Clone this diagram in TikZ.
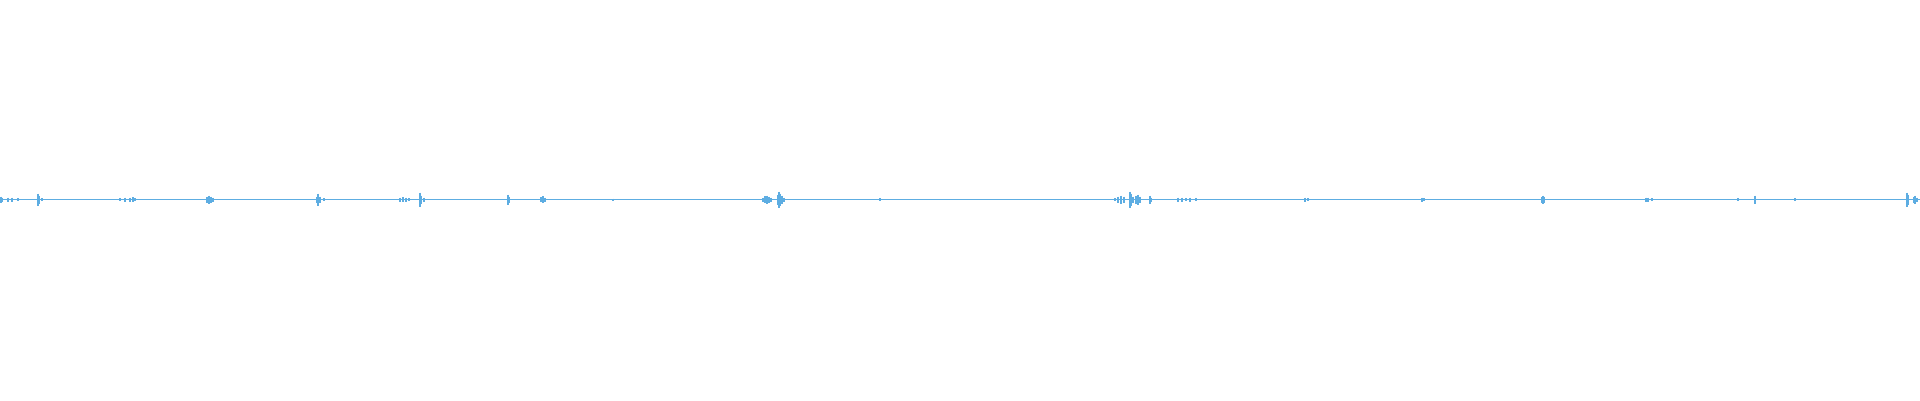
\documentclass[tikz,border=0pt]{standalone}
\begin{document}
\begin{tikzpicture}[x=1pt,y=-1pt,wave/.style={draw={rgb,255:red,93;green,173;blue,226},line width=1.3pt}]
\useasboundingbox (0,0) rectangle (1920,400);
\draw[wave] (0,199.5) -- (1920,199.5);
\foreach \x/\h in {1/3,2/2,8/2,12/2,18/1.5,38/6,39/4,42/1.5,120/1.5,125/2,130/2,133/2.5,135/1.5,207/3,209/4,211/3,213/2,317/3,318/6,320/3,324/1.5,400/2,403/2.5,406/2,409/1.5,420/7,421/4,424/2,508/5,509/3,541/2.5,543/3.5,545/2,613/1,763/2,765/3.5,767/4,769/3,771/2,778/5,779/8,780/6,782/4,784/2,880/1.5,1115/1.5,1118/3,1121/4,1124/3,1130/8,1131/6,1133/3,1136/4,1138/5,1140/3,1150/4,1151/2,1178/2,1182/2,1186/1.5,1190/2,1196/1.5,1305/2,1308/1.5,1422/2,1424/1.5,1542/3,1543/4,1544/3,1646/2,1648/2,1652/1.5,1738/1.5,1755/4,1795/1.5,1907/7,1908/5,1914/3,1915/4,1917/2}
  \draw[wave] (\x,199.5-\h) -- (\x,199.5+\h);
\end{tikzpicture}
\end{document}
